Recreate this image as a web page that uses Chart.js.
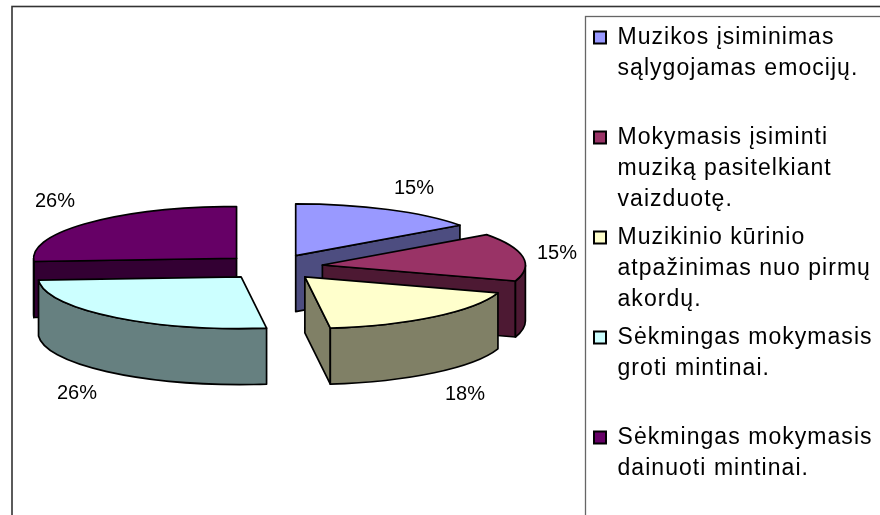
<!DOCTYPE html>
<html lang="lt">
<head>
<meta charset="utf-8">
<title>Muzikos įsiminimas</title>
<style>
html,body{margin:0;padding:0;background:#fff;overflow:hidden}
canvas{display:block}
</style>
<script src="https://cdn.jsdelivr.net/npm/chart.js@4/dist/chart.umd.min.js"></script>
</head>
<body>
<canvas id="c" width="880" height="515"></canvas>
<script>
// ---- data ----
const categoryLines = [
  ["Muzikos įsiminimas", "sąlygojamas emocijų."],
  ["Mokymasis įsiminti", "muziką pasitelkiant", "vaizduotę."],
  ["Muzikinio kūrinio", "atpažinimas nuo pirmų", "akordų."],
  ["Sėkmingas mokymasis", "groti mintinai."],
  ["Sėkmingas mokymasis", "dainuoti mintinai."]
];
const values = [15, 15, 18, 26, 26];
const faceColors = ["#9999FF", "#993366", "#FFFFCC", "#CCFFFF", "#660066"];
const sideColors = ["#4D4D80", "#4D1933", "#808066", "#668080", "#330033"];

// ---- style ----
const PIE = {cx: 273, cy: 267, radius: 203, tilt: 0.255, depth: 56, explode: 50, lineWidth: 1.7};
const DRAW_ORDER = [0, 4, 1, 3, 2];
const LABEL_SPOTS = [[414, 188], [557, 253], [465, 394], [55, 201], [77, 393]];
const LEGEND_BOX = {left: 587, top: 19};
const LEGEND_LETTER_SPACING = "1.05px";

const pie3d = {
  id: "pie3d",
  afterLayout(chart) {
    const l = chart.legend;
    l.left = LEGEND_BOX.left; l.top = LEGEND_BOX.top;
    l.right = chart.width; l.bottom = chart.height;
    l.width = l.right - l.left; l.height = l.bottom - l.top;
  },
  beforeDraw(chart) {
    const ctx = chart.ctx;
    ctx.save();
    ctx.fillStyle = "#fff";
    ctx.fillRect(0, 0, chart.width, chart.height);
    ctx.strokeStyle = "#333";
    ctx.lineWidth = 1.6;
    ctx.strokeRect(12, 6.5, 1000, 1000);
    ctx.strokeStyle = "#666";
    ctx.lineWidth = 1.3;
    ctx.strokeRect(585.5, 16.5, 1000, 1000);
    ctx.restore();
    ctx.letterSpacing = LEGEND_LETTER_SPACING;
  },
  beforeDatasetsDraw(chart) {
    const ctx = chart.ctx;
    const arcs = chart.getDatasetMeta(0).data;
    ctx.save();
    ctx.lineWidth = PIE.lineWidth;
    ctx.lineJoin = "round";
    ctx.strokeStyle = "#000";
    for (const i of DRAW_ORDER) {
      const a = arcs[i];
      const mid = (a.startAngle + a.endAngle) / 2;
      const g = {
        x: PIE.cx + Math.cos(mid) * PIE.explode,
        y: PIE.cy + Math.sin(mid) * PIE.explode * PIE.tilt,
        r: a.outerRadius
      };
      const ry = g.r * PIE.tilt;
      ctx.fillStyle = sideColors[i];
      const wall = t => {
        const px = g.x + g.r * Math.cos(t), py = g.y + ry * Math.sin(t);
        ctx.beginPath();
        ctx.moveTo(g.x, g.y);
        ctx.lineTo(px, py);
        ctx.lineTo(px, py + PIE.depth);
        ctx.lineTo(g.x, g.y + PIE.depth);
        ctx.closePath();
        ctx.fill();
        ctx.stroke();
      };
      if (Math.cos(a.startAngle) < -1e-6) wall(a.startAngle);
      if (Math.cos(a.endAngle) > 1e-6) wall(a.endAngle);
      // outer rim: only the part that faces the viewer
      const turn = Math.PI * 2;
      for (const [lo, hi] of [[0, Math.PI], [turn, turn + Math.PI]]) {
        const s = Math.max(a.startAngle, lo), e = Math.min(a.endAngle, hi);
        if (e <= s) continue;
        ctx.beginPath();
        ctx.ellipse(g.x, g.y, g.r, ry, 0, s, e);
        ctx.ellipse(g.x, g.y + PIE.depth, g.r, ry, 0, e, s, true);
        ctx.closePath();
        ctx.fill();
        ctx.stroke();
      }
      // top face, from the angles and radius the library computed for this arc
      ctx.beginPath();
      ctx.moveTo(g.x, g.y);
      ctx.ellipse(g.x, g.y, g.r, ry, 0, a.startAngle, a.endAngle);
      ctx.closePath();
      ctx.fillStyle = a.options.backgroundColor;
      ctx.fill();
      ctx.stroke();
    }
    ctx.restore();
    return false;
  },
  afterDraw(chart) {
    const ctx = chart.ctx;
    ctx.save();
    ctx.letterSpacing = "0px";
    ctx.font = '20px "Liberation Sans", Arial, sans-serif';
    ctx.fillStyle = "#000";
    ctx.textAlign = "center";
    ctx.textBaseline = "middle";
    values.forEach((v, i) => ctx.fillText(v + "%", LABEL_SPOTS[i][0], LABEL_SPOTS[i][1]));
    ctx.restore();
  }
};

new Chart(document.getElementById("c"), {
  type: "pie",
  data: {
    labels: categoryLines.map(l => l.join(" ")),
    datasets: [{
      data: values,
      backgroundColor: faceColors,
      borderWidth: 0,
      radius: PIE.radius
    }]
  },
  options: {
    responsive: false,
    animation: false,
    devicePixelRatio: 1,
    events: [],
    layout: {padding: 0},
    plugins: {
      tooltip: {enabled: false},
      title: {display: false},
      legend: {
        display: true,
        position: "right",
        align: "start",
        labels: {
          boxWidth: 12,
          boxHeight: 12,
          padding: 7,
          color: "#000",
          textAlign: "left",
          font: {family: '"Liberation Sans", Arial, sans-serif', size: 23, lineHeight: 31 / 23},
          generateLabels: () => categoryLines.map((lines, i) => ({
            text: [lines[0], lines[1] || "", lines[2] || ""],
            fillStyle: faceColors[i],
            strokeStyle: "#000",
            lineWidth: 2,
            fontColor: "#000",
            hidden: false,
            index: i
          }))
        }
      }
    }
  },
  plugins: [pie3d]
});
</script>
</body>
</html>
